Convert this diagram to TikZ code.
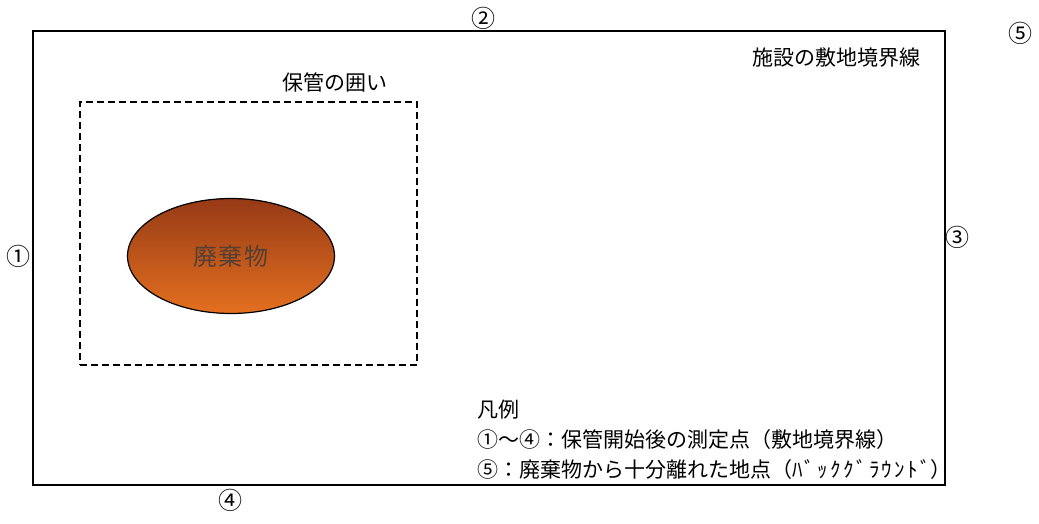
\documentclass[tikz,border=0pt]{standalone}
\usepackage{fontspec}
\setmainfont{Noto Sans CJK JP}
\newfontfamily\kanafont{Noto Sans CJK JP}[LetterSpace=11]
\newfontfamily\wastefont{Noto Sans CJK JP}[LetterSpace=8]
\usepackage{tikz}
\usetikzlibrary{shapes.geometric, positioning}
\tikzstyle{siteBox} = [rectangle, draw=black, line width=1.3pt, minimum width=912pt, minimum height=454pt, inner sep=0pt]
\tikzstyle{fenceBox} = [rectangle, draw=black, line width=1.3pt, dash pattern=on 7pt off 4pt, minimum width=337pt, minimum height=263pt, inner sep=0pt]
\tikzstyle{wasteNode} = [
                ellipse,
                minimum width = 207pt,
                minimum height = 115pt,
                draw=black,
                line width=1.2pt,
                top color={rgb,255:red,150;green,58;blue,22},
                bottom color={rgb,255:red,228;green,112;blue,32},
                text={rgb,255:red,85;green,62;blue,50},
                font=\wastefont\fontsize{24pt}{26pt}\selectfont
            ]
\tikzstyle{point} = [inner sep=0pt, font=\fontsize{24pt}{26pt}\selectfont]
\tikzstyle{label} = [inner sep=0pt, font=\fontsize{21pt}{23pt}\selectfont]
\tikzstyle{legendText} = [label, anchor=west]
\begin{document}
\begin{tikzpicture}[x=1pt, y=-1pt]
                            \useasboundingbox (0,0) rectangle (1039,524);
                            \node (site) [siteBox] at (489,258) {};
                            \node (fence) [fenceBox] at (248.5,233.5) {};
                            \node (waste) [wasteNode] at (231,256) {廃棄物};
                            \node (p1) [point] at (18,256) {①};
                            \node (p2) [point] at (483,18) {②};
                            \node (p3) [point] at (957,237) {③};
                            \node (p4) [point] at (230,500) {④};
                            \node (p5) [point] at (1020,33) {⑤};
                            \node (siteLabel) [label, anchor=east] at (921,58) {施設の敷地境界線};
                            \node (fenceLabel) [label] at (335,82) {保管の囲い};
                            \node (legend) [legendText] at (477,410) {凡例};
                            \node (legendA) [legendText] at (477,440) {①～④：保管開始後の測定点（敷地境界線）};
                            \node (legendB) [legendText] at (477,470) {⑤：廃棄物から十分離れた地点（{\kanafont ﾊﾞｯｸｸﾞﾗｳﾝﾄﾞ}）};
                        \end{tikzpicture}
\end{document}
